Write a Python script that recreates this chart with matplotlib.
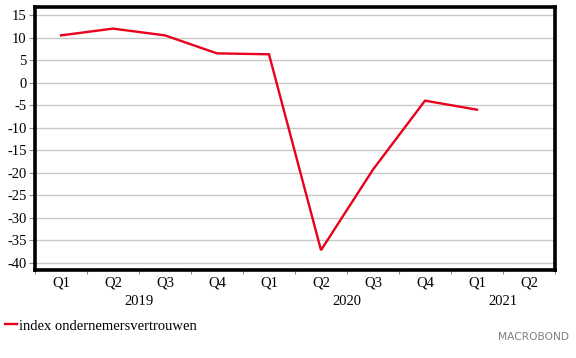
import matplotlib.pyplot as plt
from matplotlib import transforms

# Data
quarters = ['Q1', 'Q2', 'Q3', 'Q4', 'Q1', 'Q2', 'Q3', 'Q4', 'Q1', 'Q2']
years = ['2019', '2020', '2021']
year_spans = [(0, 4), (4, 8), (8, 10)]
values = [10.5, 12.0, 10.5, 6.5, 6.3, -37.2, -19.3, -4.0, -6.0]
series_label = 'index ondernemersvertrouwen'
y_ticks = list(range(-40, 20, 5))

plt.rcParams['font.family'] = ['Liberation Serif', 'DejaVu Serif']
plt.rcParams['axes.unicode_minus'] = False

fig = plt.figure(figsize=(5.76, 3.58), dpi=100)
ax = fig.add_axes([35 / 576, 1 - 270 / 358, 520 / 576, 263 / 358])

xs = [i + 0.5 for i in range(len(values))]
line, = ax.plot(xs, values, color='#e8001c', lw=1.7, label=series_label,
                solid_joinstyle='miter')

ax.set_xlim(0, len(quarters))
ax.set_ylim(-41.6, 16.8)
ax.set_yticks(y_ticks)
ax.set_yticklabels([str(v) for v in y_ticks])
ax.grid(axis='y', color='#c8c8c8', lw=1.0)
ax.set_axisbelow(True)

# quarter boundaries as ticks, labels in between
ax.set_xticks(range(len(quarters) + 1))
ax.set_xticklabels([])
ax.set_xticks(xs + [len(quarters) - 0.5], minor=True)
ax.set_xticklabels(quarters, minor=True)
ax.tick_params(axis='x', which='major', length=3, color='#888888', direction='out')
ax.tick_params(axis='x', which='minor', length=0, pad=5, labelsize=10.5)
ax.tick_params(axis='y', length=4, color='#888888', labelsize=10.5, pad=2)

for s in ax.spines.values():
    s.set_linewidth(2.6)
    s.set_color('black')

trans = transforms.blended_transform_factory(ax.transData, ax.transAxes)
for yr, (a, b) in zip(years, year_spans):
    ax.text((a + b) / 2, -0.095, yr, transform=trans, ha='center', va='top',
            fontsize=10.5)

fig.legend(handles=[line], loc='upper left', bbox_to_anchor=(0.008, 0.108),
           frameon=False, fontsize=10.5, handlelength=0.85, handletextpad=0.15,
           borderaxespad=0, borderpad=0)

fig.text(0.988, 0.045, 'MACROBOND', ha='right', va='bottom', fontsize=7.7,
         color='#808080', family='DejaVu Sans')

fig.savefig('out.png', dpi=100)
